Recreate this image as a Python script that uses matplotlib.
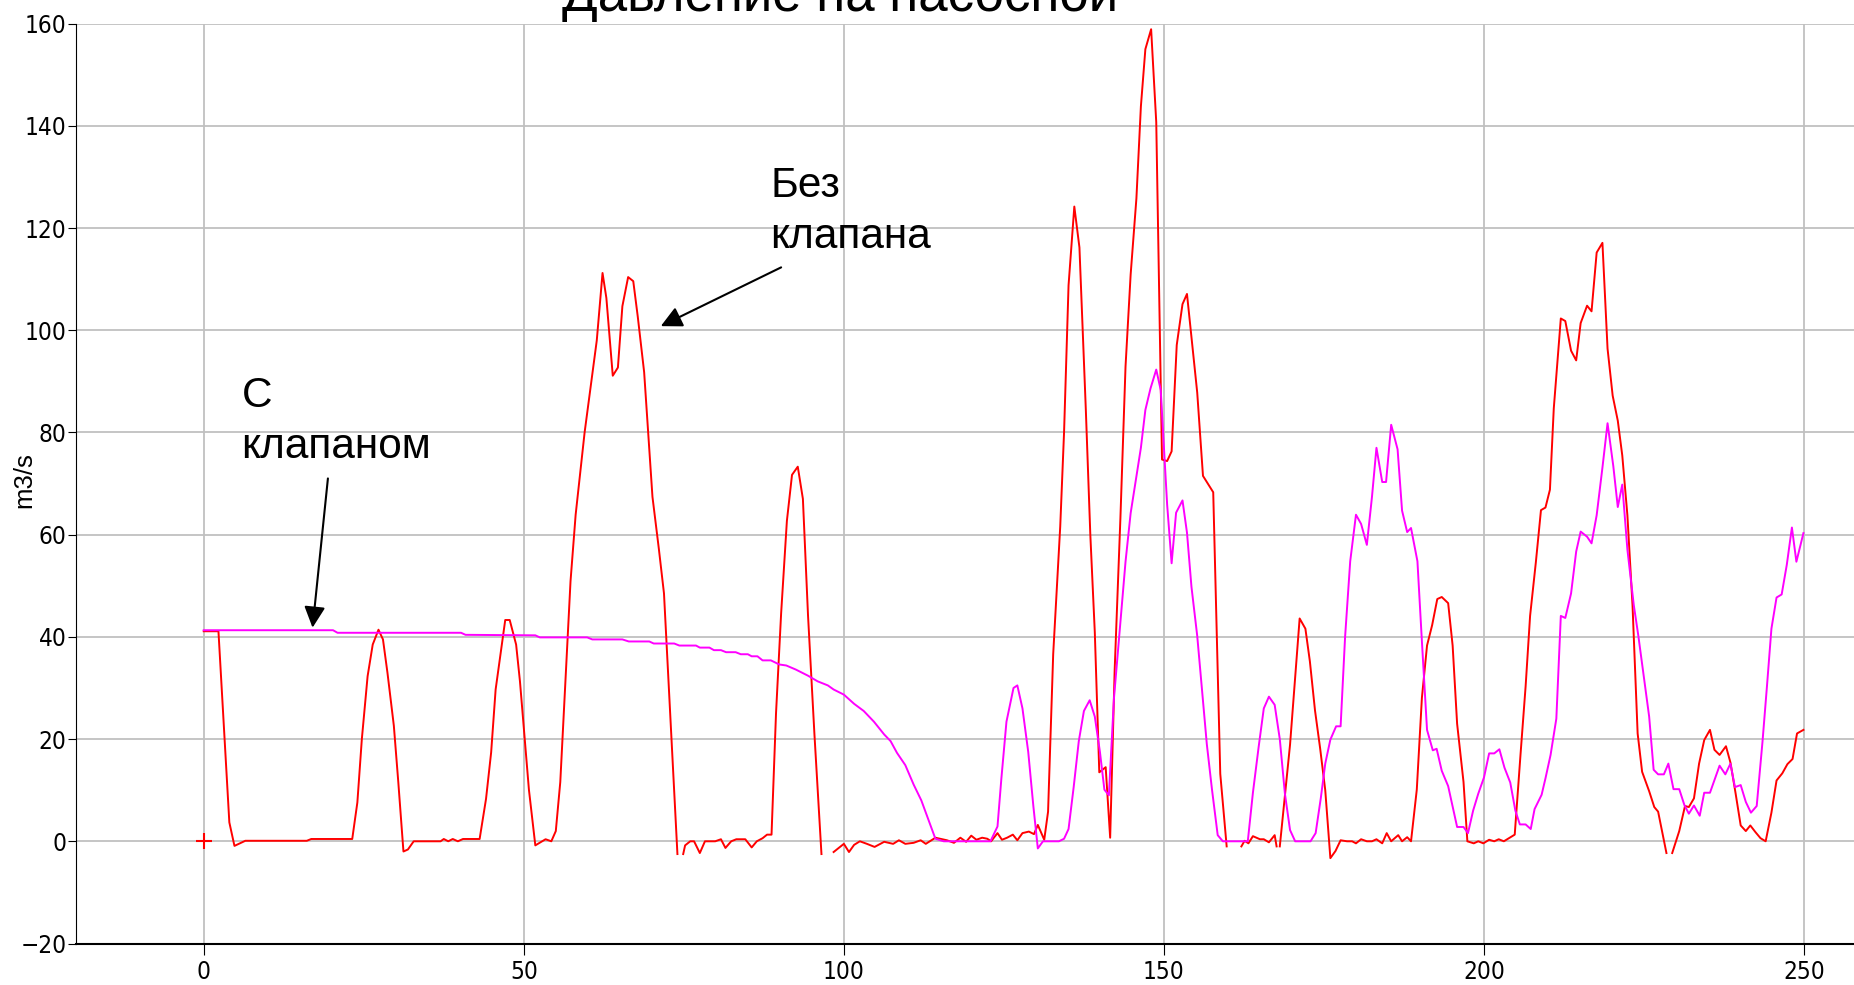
import numpy as np
import matplotlib
matplotlib.use('Agg')
import matplotlib.pyplot as plt
from matplotlib import font_manager as fm

nan = np.nan

# Без клапана (красная линия)
red_x = [0, 2.3, 4.0, 4.8, 6.5, 16.1, 16.8, 23.2, 24.0, 24.7, 25.6, 26.4, 27.3, 28.0, 28.7, 29.7,
         30.4, 31.2, 31.9, 32.8, 37.0, 37.5, 38.2, 38.9, 39.7, 40.5, 43.1, 44.1, 44.9, 45.6, 46.4,
         47.1, 47.8, 48.8, 49.4, 50.8, 51.8, 53.4, 54.3, 55.0, 55.7, 56.5, 57.3, 58.1, 59.5, 61.4,
         62.3, 62.9, 63.9, 64.7, 65.4, 66.3, 67.1, 67.8, 68.8, 70.1, 71.1, 71.9, 74.0, 74.4,
         74.9, 75.2, 76.0, 76.6, 77.5, 78.3, 79.9, 80.8, 81.5, 82.4, 83.2, 84.6, 85.6, 86.4, 87.3,
         88.0, 88.7, 89.4, 90.2, 91.1, 91.9, 92.8, 93.6, 94.4, 95.4, 96.5, 97.5,
         98.4, 100.0, 100.8, 101.6, 102.5, 103.6, 104.8, 106.3, 107.7, 108.6, 109.6, 110.9, 112.0,
         112.8, 114.3, 116.1, 117.2, 118.2, 119.1, 119.9, 120.7, 121.6, 122.4, 123.0, 124.0, 124.7,
         125.5, 126.4, 127.1, 127.9, 128.9, 129.7, 130.3, 131.3, 131.9, 132.7, 133.8, 134.4, 135.1,
         136.0, 136.8, 137.8, 138.5, 139.2, 139.9, 140.9, 141.6, 142.3, 143.2, 144.0, 144.8, 145.7,
         146.4, 147.1, 148.0, 148.8, 149.7, 150.5, 151.2, 152.0, 152.9, 153.6, 155.2, 156.1, 157.7,
         158.8, 159.8, 161.0,
         162.1, 162.6, 163.2, 163.9, 165.0, 165.6, 166.4, 167.3, 167.6, 167.8,
         168.1, 169.7, 171.2, 172.1, 172.8, 173.6, 174.4, 175.2, 176.0, 176.8, 177.6, 178.6, 179.4,
         180.0, 180.8, 181.7, 182.5, 183.2, 184.1, 184.8, 185.5, 186.6, 187.2, 188.0, 188.6, 189.5,
         190.3, 191.1, 191.9, 192.7, 193.4, 194.4, 195.1, 195.8, 196.8, 197.4, 198.4, 199.1, 199.9,
         200.8, 201.6, 202.3, 203.1, 203.9, 204.8, 205.7, 206.5, 207.2, 208.1, 208.9, 209.6, 210.3,
         210.9, 212.0, 212.7, 213.6, 214.4, 215.1, 216.1, 216.8, 217.6, 218.5, 219.3, 220.1, 220.9,
         221.6, 222.4, 223.2, 224.0, 224.7, 225.8, 226.6, 227.2, 228.5, 229.0,
         229.4, 230.5, 231.4, 232.0, 232.8, 233.6, 234.4, 235.3, 236.0, 236.8, 237.8, 238.5, 239.3,
         240.1, 240.9, 241.6, 242.4, 243.2, 244.0, 244.9, 245.7, 246.6, 247.4, 248.2, 248.9, 249.9]
red_y = [41.1, 41.1, 3.7, -0.9, 0.1, 0.1, 0.45, 0.45, 7.6, 20, 32.3, 38.5, 41.4, 39.5, 33, 22.6,
         11.5, -2.0, -1.6, 0, 0, 0.45, 0, 0.45, 0, 0.45, 0.45, 8.3, 17.4, 29.7, 36.9,
         43.3, 43.3, 38.5, 31.3, 10.1, -0.8, 0.4, 0, 2.0, 11.6, 31.3, 50.9, 63.9, 80, 98,
         111.2, 106.3, 91.1, 92.7, 104.7, 110.4, 109.6, 102.7, 91.8, 67.4, 57.2, 48.5, -2.5, nan,
         -2.5, -0.8, 0, 0, -2.3, 0, 0, 0.4, -1.3, 0, 0.4, 0.4, -1.2, 0, 0.6,
         1.3, 1.3, 25, 44.6, 62.7, 71.7, 73.3, 67, 44.2, 21, -2.5, nan,
         -2.1, -0.5, -2.1, -0.7, 0, -0.5, -1.1, -0.1, -0.5, 0.2, -0.5, -0.3, 0.2,
         -0.5, 0.7, 0.2, -0.3, 0.7, -0.1, 1.1, 0.3, 0.7, 0.5, 0, 1.6, 0.3,
         0.7, 1.3, 0.2, 1.6, 1.9, 1.4, 3.2, 0.3, 5.8, 36.6, 61.6, 80.1, 108.8,
         124.2, 116.2, 84.4, 60, 40.9, 13.5, 14.5, 0.7, 33.4, 63.2, 92.9, 110.9, 125.8,
         143.8, 155, 158.9, 140.7, 74.7, 74.4, 76.3, 97.1, 105.1, 107.1, 87.8, 71.5, 68.3,
         13.2, -1.0, nan,
         -1.0, 0.1, -0.4, 1.0, 0.4, 0.4, -0.2, 1.2, -1.0, nan,
         -1.0, 18.9, 43.6, 41.6, 35.2, 25.6, 18.2, 10.0, -3.3, -1.9, 0.2, 0, 0,
         -0.4, 0.4, 0, 0, 0.4, -0.4, 1.6, 0, 1.2, 0, 0.8, 0, 10.1,
         28.1, 38.3, 42.3, 47.4, 47.8, 46.6, 38.3, 23.0, 11.6, 0, -0.4, 0, -0.4,
         0.3, 0, 0.4, 0, 0.6, 1.3, 16.9, 30.3, 44.1, 54.6, 64.8, 65.3, 68.8,
         84.7, 102.3, 101.8, 96.0, 94.1, 101.4, 104.8, 103.7, 115.2, 117.1, 96.4, 87.2, 82.3,
         75.5, 63.8, 46.2, 21.1, 13.6, 9.8, 6.7, 5.8, -2.3, nan,
         -2.3, 2.0, 6.9, 6.7, 8.4, 15.2, 19.8, 21.8, 17.9, 16.9, 18.6, 15.4, 9.4,
         3.1, 2.0, 3.1, 1.8, 0.6, 0, 5.6, 11.9, 13.3, 15.1, 16.1, 21.1, 21.8]

# С клапаном (розовая линия)
mag_x = [0, 20.2, 20.9, 40.2, 40.9, 51.8, 52.5, 59.9, 60.7, 65.4, 66.4, 69.6, 70.3, 73.5, 74.3,
         76.9, 77.5, 79.0, 79.7, 80.8, 81.6, 83.1, 83.9, 85.0, 85.6, 86.5, 87.3, 88.6, 89.9, 91.0,
         92.5, 94.4, 95.9, 97.5, 98.4, 100.0, 101.6, 103.1, 104.7, 106.3, 107.3, 108.3, 109.6,
         110.9, 112.1, 113.3, 114.3, 115.6, 122.9, 124.0, 124.6, 125.4, 126.5, 127.1, 127.9, 128.8,
         129.6, 130.3, 131.1, 133.6, 134.4, 135.1, 135.9, 136.7, 137.5, 138.4, 139.2, 140.0, 140.7,
         141.4, 142.2, 143.2, 144.0, 144.8, 145.6, 146.4, 147.1, 147.9, 148.8, 149.5, 150.5, 151.2,
         151.9, 152.9, 153.6, 154.3, 155.2, 156.7, 157.5, 158.4, 159.2, 163.1, 163.9, 164.8, 165.6,
         166.4, 167.3, 168.1, 168.9, 169.7, 170.5, 172.9, 173.7, 174.5, 175.2, 176.0, 176.9, 177.6,
         178.3, 179.1, 180.0, 180.8, 181.7, 182.5, 183.2, 184.1, 184.7, 185.5, 186.5, 187.2, 188.0,
         188.6, 189.6, 190.3, 191.1, 192.0, 192.6, 193.4, 194.4, 195.8, 196.8, 197.5, 198.3, 199.1,
         200.0, 200.8, 201.6, 202.4, 203.2, 204.1, 204.9, 205.6, 206.5, 207.3, 207.9, 209.0, 209.6,
         210.4, 211.3, 212.0, 212.7, 213.6, 214.4, 215.1, 216.1, 216.8, 217.6, 218.5, 219.3, 220.2,
         220.9, 221.6, 222.4, 223.4, 224.1, 224.9, 225.8, 226.5, 227.2, 228.1, 228.8, 229.6, 230.5,
         231.3, 232.0, 232.8, 233.7, 234.4, 235.3, 236.1, 236.8, 237.7, 238.5, 239.2, 240.1, 240.9,
         241.7, 242.6, 243.5, 244.2, 244.9, 245.7, 246.5, 247.3, 248.1, 248.8, 249.9]
mag_y = [41.3, 41.3, 40.8, 40.8, 40.4, 40.3, 39.9, 39.9, 39.5, 39.5, 39.1, 39.1, 38.7, 38.7, 38.3,
         38.3, 37.9, 37.9, 37.4, 37.4, 37.0, 37.0, 36.6, 36.6, 36.2, 36.2, 35.4, 35.4, 34.6, 34.4,
         33.6, 32.4, 31.3, 30.5, 29.7, 28.7, 26.9, 25.5, 23.4, 20.9, 19.6, 17.3, 14.9,
         11.1, 8.0, 3.9, 0.5, 0, 0, 2.9, 12.2, 23.4, 30.0, 30.5, 26.0, 17.5,
         6.9, -1.4, 0, 0, 0.5, 2.4, 10.6, 19.6, 25.5, 27.6, 24.4, 17.5, 10.1,
         9.0, 28.1, 43.0, 54.7, 64.2, 70.6, 77.0, 84.4, 88.6, 92.3, 88.3, 65.9, 54.4,
         64.3, 66.7, 60.4, 49.8, 40.2, 19.0, 10.2, 1.2, 0, 0, 9.5, 18.5, 26.0,
         28.3, 26.7, 20.0, 9.3, 2.2, 0, 0, 1.6, 8.4, 15.2, 19.9, 22.5, 22.5,
         40.0, 54.8, 63.9, 62.1, 58.0, 67.4, 77.0, 70.3, 70.3, 81.5, 76.7, 64.7, 60.5,
         61.3, 54.8, 39.1, 21.8, 17.8, 18.1, 13.8, 10.8, 2.8, 2.8, 1.6, 6.0, 9.3,
         12.5, 17.2, 17.2, 18.0, 14.4, 11.5, 6.0, 3.3, 3.3, 2.4, 6.3, 9.1, 12.3,
         16.9, 24.0, 44.1, 43.7, 48.5, 56.7, 60.6, 59.6, 58.3, 63.8, 73.1, 81.8, 73.4,
         65.4, 69.8, 57.1, 46.2, 40.3, 32.8, 24.4, 14.0, 13.1, 13.1, 15.2, 10.2, 10.2,
         7.1, 5.4, 7.0, 5.0, 9.5, 9.5, 12.3, 14.8, 13.1, 15.2, 10.6, 11.0, 7.7,
         5.6, 6.9, 19.4, 30.3, 41.6, 47.7, 48.3, 54.1, 61.4, 54.7, 60.3]

x_ticks = [0, 50, 100, 150, 200, 250]
y_ticks = [-20, 0, 20, 40, 60, 80, 100, 120, 140, 160]

plt.rcParams['font.family'] = ['Liberation Sans', 'DejaVu Sans']


# узкий шрифт для подписей осей, если найдётся
def narrow_font():
    try:
        path = fm.findfont(fm.FontProperties(family='Liberation Sans Narrow'),
                           fallback_to_default=False)
        if 'Narrow' in path:
            return fm.FontProperties(family='Liberation Sans Narrow', size=19)
    except Exception:
        pass
    fp = fm.FontProperties(family='DejaVu Sans', stretch='condensed', size=17.5)
    try:
        if 'Condensed' in fm.findfont(fp):
            return fp
    except Exception:
        pass
    return fm.FontProperties(family='Liberation Sans', size=15.5)


tick_font = narrow_font()

fig = plt.figure(figsize=(18.54, 9.85), dpi=100)
ax = fig.add_axes([75.7 / 1854, 1 - 943.5 / 985, 1 - 75.7 / 1854, (943.5 - 23.6) / 985])

ax.plot(red_x, red_y, color='#ff0000', lw=1.4)
ax.plot(mag_x, mag_y, color='#ff00ff', lw=1.4)
ax.plot([0], [0], marker='+', color='#ff0000', markersize=11, mew=1.5, ls='none')

ax.set_xlim(-20, 257.8)
ax.set_ylim(-20, 160)
ax.set_xticks(x_ticks)
ax.set_yticks(y_ticks)
ax.grid(True, color='#c0c0c0', lw=1.3)
ax.set_axisbelow(True)

for s in ['top', 'right']:
    ax.spines[s].set_visible(False)
ax.spines['left'].set_color('black')
ax.spines['bottom'].set_color('black')
ax.spines['bottom'].set_linewidth(1.5)

ax.tick_params(axis='y', direction='out', length=6, pad=0.5)
ax.tick_params(axis='x', direction='out', length=8, pad=4)
for lab in ax.get_xticklabels() + ax.get_yticklabels():
    lab.set_fontproperties(tick_font)

fig.text(24 / 1854, 1 - 480 / 985, 'm3/s', rotation=90, ha='center', va='center', fontsize=18.5)

fig.text(840 / 1854, 1 - 11 / 985, 'Давление на насосной', ha='center', va='baseline', fontsize=38)

arrow_kw = dict(arrowstyle='-|>', color='black', lw=1.5, mutation_scale=32, shrinkA=0, shrinkB=0)

ax.text(5.9, 91.1, 'С\nклапаном', ha='left', va='top', fontsize=30.5, linespacing=1.35)
ax.annotate('', xy=(17.0, 41.8), xytext=(19.4, 71.0), arrowprops=arrow_kw)

ax.text(88.5, 132.2, 'Без\nклапана', ha='left', va='top', fontsize=30.5, linespacing=1.35)
ax.annotate('', xy=(71.4, 100.8), xytext=(90.2, 112.3), arrowprops=arrow_kw)

fig.savefig('out.png', dpi=100)
